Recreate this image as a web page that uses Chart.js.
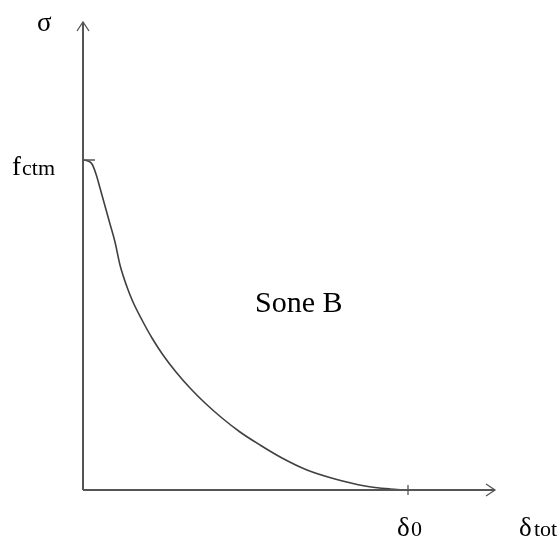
<!DOCTYPE html>
<html>
<head>
<meta charset="utf-8">
<script src="https://cdn.jsdelivr.net/npm/chart.js@4"></script>
<style>
  html, body { margin: 0; padding: 0; background: #fff; }
  #wrap { width: 560px; height: 540px; }
</style>
</head>
<body>
<div id="wrap"><canvas id="myChart" width="560" height="540"></canvas></div>
<script>
// curve (arbitrary units, delta on x, sigma on y)
const deltaVals = [0, 5, 9, 13, 17, 22, 27, 32, 37, 44, 50, 59, 69, 80, 93, 107, 122, 139, 157, 177, 199, 224, 252, 282, 307, 322];
const sigmaVals = [330, 329, 326, 316, 302, 284, 266, 248, 225, 203, 188, 170, 152, 135, 118, 102, 87, 72, 58, 45, 32, 20, 11, 4, 1, 0];
const fctm = 330;
const delta0 = 325;
const xMax = 412;
const yMax = 468;

const points = deltaVals.map(function(d, i){ return {x: d, y: sigmaVals[i]}; });

const serif = '"Liberation Serif", "DejaVu Serif", serif';

const sketch = {
  id: 'sketch',
  afterDraw: function(chart){
    const c = chart.ctx;
    const xs = chart.scales.x, ys = chart.scales.y;
    const x0 = xs.getPixelForValue(0), y0 = ys.getPixelForValue(0);
    const xEnd = xs.getPixelForValue(xMax), yEnd = ys.getPixelForValue(yMax);
    c.save();
    c.strokeStyle = '#555';
    c.lineWidth = 2;
    c.beginPath();
    c.moveTo(x0, y0); c.lineTo(x0, yEnd);
    c.moveTo(x0, y0); c.lineTo(xEnd, y0);
    c.stroke();
    // arrow heads
    c.lineWidth = 1.3;
    c.beginPath();
    c.moveTo(x0 - 6, yEnd + 9); c.lineTo(x0, yEnd); c.lineTo(x0 + 6, yEnd + 9);
    c.moveTo(xEnd - 9, y0 - 6); c.lineTo(xEnd, y0); c.lineTo(xEnd - 9, y0 + 6);
    // ticks
    const yf = ys.getPixelForValue(fctm);
    c.moveTo(x0, yf); c.lineTo(x0 + 12, yf);
    const xd = xs.getPixelForValue(delta0);
    c.moveTo(xd, y0 - 5); c.lineTo(xd, y0 + 5);
    c.stroke();

    c.fillStyle = '#000';
    c.textBaseline = 'alphabetic';
    c.font = '27px ' + serif;
    c.fillText('σ', 37, 31);
    c.fillText('f', 12, 175);
    c.font = '22px ' + serif;
    c.fillText('ctm', 22, 175);
    c.font = '30px ' + serif;
    c.fillText('Sone B', 255, 312);
    c.font = '27px ' + serif;
    c.fillText('δ', xd - 11, 536);
    c.fillText('δ', 519, 536);
    c.font = '22px ' + serif;
    c.fillText('0', xd + 3, 536);
    c.fillText('tot', 534, 536);
    c.restore();
  }
};

var ctx = document.getElementById('myChart');
var myChart = new Chart(ctx, {
  type: 'line',
  data: {
    datasets: [{
      data: points,
      borderColor: '#404040',
      borderWidth: 1.6,
      pointRadius: 0,
      cubicInterpolationMode: 'monotone',
      fill: false
    }]
  },
  options: {
    responsive: false,
    animation: false,
    layout: { padding: { left: 83, right: 65, top: 22, bottom: 50 } },
    plugins: { legend: { display: false }, tooltip: { enabled: false } },
    scales: {
      x: { type: 'linear', min: 0, max: xMax, display: false },
      y: { type: 'linear', min: 0, max: yMax, display: false }
    }
  },
  plugins: [sketch]
});
</script>
</body>
</html>
